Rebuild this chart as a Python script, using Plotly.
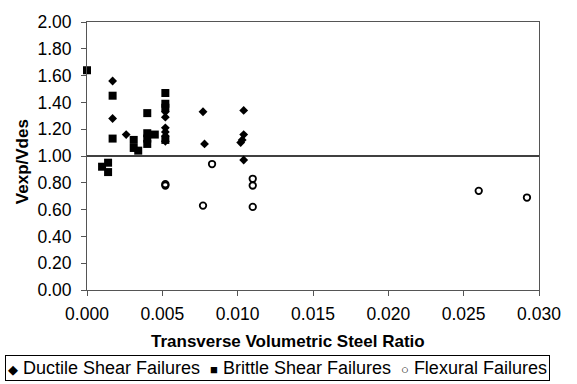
import plotly.graph_objects as go

# Transverse volumetric steel ratio vs. experimental/design shear strength
ductile_x = [0.0017, 0.0017, 0.0026, 0.0052, 0.0052, 0.0052, 0.0052, 0.0052, 0.0052,
             0.0077, 0.0078, 0.0104, 0.0104, 0.0103, 0.0102, 0.0104]
ductile_y = [1.56, 1.28, 1.16, 1.33, 1.29, 1.21, 1.18, 1.15, 1.11,
             1.33, 1.09, 1.34, 1.16, 1.12, 1.10, 0.97]

brittle_x = [0.0000, 0.0010, 0.0014, 0.0014, 0.0017, 0.0017, 0.0031, 0.0031, 0.0034,
             0.0040, 0.0040, 0.0040, 0.0040, 0.0045, 0.0052, 0.0052, 0.0052, 0.0052]
brittle_y = [1.64, 0.92, 0.95, 0.88, 1.45, 1.13, 1.12, 1.06, 1.04,
             1.32, 1.17, 1.13, 1.09, 1.16, 1.47, 1.39, 1.36, 1.12]

flexural_x = [0.0052, 0.0052, 0.0083, 0.0077, 0.0110, 0.0110, 0.0110, 0.0260, 0.0292]
flexural_y = [0.79, 0.78, 0.94, 0.63, 0.83, 0.78, 0.62, 0.74, 0.69]

series_names = ["Ductile Shear Failures", "Brittle Shear Failures", "Flexural Failures"]
legend_glyphs = ["\u25C6", "\u25A0", "\u25CB"]

x_ticks = [0.000, 0.005, 0.010, 0.015, 0.020, 0.025, 0.030]
y_ticks = [0.0, 0.2, 0.4, 0.6, 0.8, 1.0, 1.2, 1.4, 1.6, 1.8, 2.0]
unity_ratio = 1.0

FONT = "Liberation Sans, Arial, sans-serif"

fig = go.Figure()
fig.add_trace(go.Scatter(
    x=ductile_x, y=ductile_y, mode="markers", name=series_names[0], cliponaxis=False,
    marker=dict(symbol="diamond", size=6.8, color="black", line=dict(width=0)),
    showlegend=False))
fig.add_trace(go.Scatter(
    x=brittle_x, y=brittle_y, mode="markers", name=series_names[1], cliponaxis=False,
    marker=dict(symbol="square", size=8, color="black", line=dict(width=0)),
    showlegend=False))
fig.add_trace(go.Scatter(
    x=flexural_x, y=flexural_y, mode="markers", name=series_names[2], cliponaxis=False,
    marker=dict(symbol="circle-open", size=6.5, color="black", line=dict(width=1.8, color="black")),
    showlegend=False))

# reference line at Vexp/Vdes = 1
fig.add_shape(type="line", xref="paper", x0=0, x1=1, yref="y", y0=unity_ratio, y1=unity_ratio,
              line=dict(color="black", width=1.5), layer="below")

# boxed key below the axis title
legend_text = "\u00A0\u00A0".join(
    f"<span style='font-size:13px'>{g}</span> {n}" for g, n in zip(legend_glyphs, series_names))
fig.add_annotation(text=legend_text, xref="paper", yref="paper", x=0.421, y=-0.292,
                   xanchor="center", yanchor="middle", showarrow=False,
                   font=dict(family=FONT, size=18, color="black"),
                   bordercolor="black", borderwidth=1, borderpad=2, bgcolor="white")

fig.add_annotation(text="<b>Transverse Volumetric Steel Ratio</b>", xref="paper", yref="paper",
                   x=0.445, y=-0.193, xanchor="center", yanchor="middle", showarrow=False,
                   font=dict(family=FONT, size=17, color="black"))
fig.add_annotation(text="<b>Vexp/Vdes</b>", xref="paper", yref="paper",
                   x=-0.142, y=0.48, xanchor="center", yanchor="middle", showarrow=False,
                   textangle=-90, font=dict(family=FONT, size=17, color="black"))

fig.update_xaxes(range=[0, 0.030], tickvals=x_ticks, tickformat=".3f",
                 showline=True, linecolor="#555", linewidth=1, mirror=True,
                 ticks="outside", ticklen=5, tickcolor="#555", showgrid=False, zeroline=False,
                 ticklabelstandoff=3,
                 tickfont=dict(family=FONT, size=17.5, color="black"))
fig.update_yaxes(range=[0, 2.0], tickvals=y_ticks, tickformat=".2f",
                 showline=True, linecolor="#555", linewidth=1, mirror=True,
                 ticks="outside", ticklen=5, tickcolor="#555", showgrid=False, zeroline=False,
                 ticklabelstandoff=6,
                 tickfont=dict(family=FONT, size=17.5, color="black"))

fig.update_layout(width=577, height=384, margin=dict(l=87, r=38, t=16, b=94),
                  paper_bgcolor="white", plot_bgcolor="white",
                  font=dict(family=FONT, color="black"))

fig.write_html("out.html")
